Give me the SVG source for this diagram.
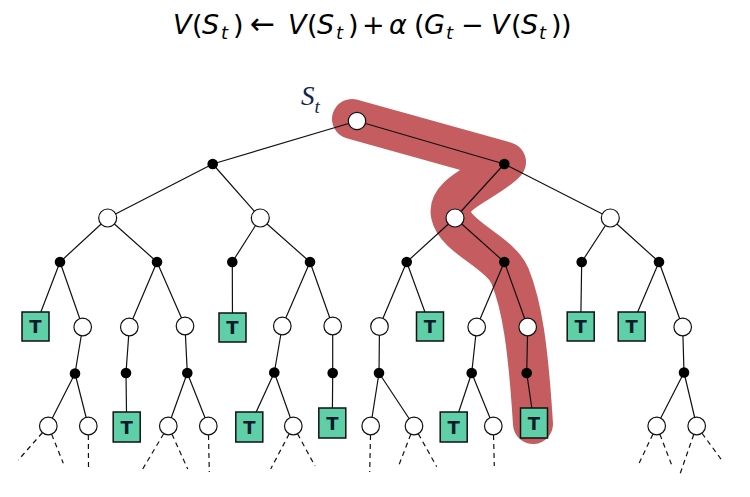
<svg xmlns="http://www.w3.org/2000/svg" width="750" height="497" viewBox="0 0 750 497">
<style>
.e{stroke:#111;stroke-width:1.2;fill:none}
.d{stroke:#111;stroke-width:1.2;fill:none;stroke-dasharray:5 4}
.c{fill:#fff;stroke:#111;stroke-width:1.2}
.b{fill:#000}
.t rect{fill:#5ecfa7;stroke:#111;stroke-width:1.5}
.t text{font-family:"DejaVu Sans",sans-serif;font-weight:bold;font-size:18px;fill:#0b1b2b;text-anchor:middle}
.m{font-family:"DejaVu Sans",sans-serif;font-size:27px;fill:#000}
.i{font-style:italic}
.s{font-size:18px;font-style:italic}
</style>
<rect width="750" height="497" fill="#fff"/>
<g id="title">
<text class="m" y="34">
<tspan class="i" x="173">V</tspan><tspan x="192">(</tspan><tspan class="i" x="202">S</tspan><tspan class="s" x="221" y="39">t</tspan><tspan x="233" y="34">)</tspan>
<tspan x="250" font-size="30">←</tspan>
<tspan class="i" x="288">V</tspan><tspan x="307">(</tspan><tspan class="i" x="317">S</tspan><tspan class="s" x="336" y="39">t</tspan><tspan x="348" y="34">)</tspan>
<tspan x="362">+</tspan>
<tspan class="i" x="389">α</tspan>
<tspan x="414">(</tspan><tspan class="i" x="424">G</tspan><tspan class="s" x="446" y="39">t</tspan>
<tspan x="461" y="34">−</tspan>
<tspan class="i" x="491">V</tspan><tspan x="511">(</tspan><tspan class="i" x="521">S</tspan><tspan class="s" x="539" y="39">t</tspan><tspan x="551" y="34">)</tspan><tspan x="561">)</tspan>
</text>
</g>
<g id="highlight">
<path d="M352,119 L506,162 C488,182 446,192 451,215 C456,238 500,252 510,276 C522,306 528,345 533,424" fill="none" stroke="#c45c60" stroke-width="40" stroke-linecap="round" stroke-linejoin="round"/>
</g>
<g id="label-st">
<text x="301" y="105" font-family="Liberation Serif,serif" font-style="italic" font-size="27" fill="#14234f">S<tspan font-size="19" dy="8">t</tspan></text>
</g>
<g id="connectors">
<path class="e" d="M357,121L212.7,164M357,121L504.3,164
M212.7,164L107.7,218M212.7,164L260.3,218M504.3,164L455,218M504.3,164L610.3,218
M107.7,218L60,262M107.7,218L157,262M260.3,218L232.3,262M260.3,218L310,262
M455,218L406.7,262M455,218L504.3,262M610.3,218L581.7,262M610.3,218L659,262
M60,262L35.5,326M60,262L82.7,327M157,262L129.3,327M157,262L185,326
M232.3,262L232.5,327M310,262L282.3,326M310,262L332.7,326
M406.7,262L379.5,326.5M406.7,262L430,326M504.3,262L476.7,327M504.3,262L527.7,327
M581.7,262L580.7,326M659,262L631.7,326M659,262L682.7,327
M82.7,327L75,373.5M129.3,327L126,373M185,326L187.3,373M282.3,326L274.3,372.5M332.7,326L332.7,373
M379.5,326.5L379,373M476.7,327L471.7,373M527.7,327L526.7,373M682.7,327L684,372.5
M75,373.5L48.3,426M75,373.5L88.3,426M126,373L126.7,427M187.3,373L168.3,426M187.3,373L208.3,426
M274.3,372.5L249.3,427M274.3,372.5L293.3,426M332.7,373L332.3,423
M379,373L370.7,426M379,373L414,426M471.7,373L453.7,427M471.7,373L493.3,426
M526.7,373L534,423M684,372.5L656.7,426M684,372.5L696.7,426"/>
<path class="d" d="M48.3,426L18.3,460M48.3,426L63.3,463.3M88.3,426L88.5,467
M168.3,426L142.7,469M168.3,426L187.7,469M208.3,426L209.3,472
M293.3,426L270.7,469M293.3,426L315,466M370.7,426L369.7,472
M414,426L398.3,466.7M414,426L436.7,466.7M493.3,426L494.3,466
M656.7,426L638.3,465M656.7,426L671.7,465M696.7,426L680,474M696.7,426L721.7,460"/>
</g>
<g id="n-root"><circle class="c" cx="357" cy="121" r="8.7"/></g>
<g id="n-a1"><circle class="b" cx="212.7" cy="164" r="5.3"/></g>
<g id="n-a2"><circle class="b" cx="504.3" cy="164" r="5.3"/></g>
<g id="n-s1"><circle class="c" cx="107.7" cy="218" r="9"/></g>
<g id="n-s2"><circle class="c" cx="260.3" cy="218" r="9"/></g>
<g id="n-s3"><circle class="c" cx="455" cy="218" r="9"/></g>
<g id="n-s4"><circle class="c" cx="610.3" cy="218" r="9"/></g>
<g id="n-b1"><circle class="b" cx="60" cy="262" r="5.3"/></g>
<g id="n-b2"><circle class="b" cx="157" cy="262" r="5.3"/></g>
<g id="n-b3"><circle class="b" cx="232.3" cy="262" r="5.3"/></g>
<g id="n-b4"><circle class="b" cx="310" cy="262" r="5.3"/></g>
<g id="n-b5"><circle class="b" cx="406.7" cy="262" r="5.3"/></g>
<g id="n-b6"><circle class="b" cx="504.3" cy="262" r="5.3"/></g>
<g id="n-b7"><circle class="b" cx="581.7" cy="262" r="5.3"/></g>
<g id="n-b8"><circle class="b" cx="659" cy="262" r="5.3"/></g>
<g id="n-t1" class="t"><rect x="22" y="312" width="27" height="29"/><text x="35.5" y="333">T</text></g>
<g id="n-c1"><circle class="c" cx="82.7" cy="327" r="8.8"/></g>
<g id="n-c2"><circle class="c" cx="129.3" cy="327" r="8.8"/></g>
<g id="n-c3"><circle class="c" cx="185" cy="326" r="8.8"/></g>
<g id="n-t2" class="t"><rect x="219" y="313" width="27" height="29"/><text x="232.5" y="334">T</text></g>
<g id="n-c4"><circle class="c" cx="282.3" cy="326" r="8.8"/></g>
<g id="n-c5"><circle class="c" cx="332.7" cy="326" r="8.8"/></g>
<g id="n-c6"><circle class="c" cx="379.5" cy="326.5" r="8.8"/></g>
<g id="n-t3" class="t"><rect x="416.5" y="312" width="27" height="29"/><text x="430" y="333">T</text></g>
<g id="n-c7"><circle class="c" cx="476.7" cy="327" r="8.8"/></g>
<g id="n-c8"><circle class="c" cx="527.7" cy="327" r="8.8"/></g>
<g id="n-t4" class="t"><rect x="567.2" y="312" width="27" height="29"/><text x="580.7" y="333">T</text></g>
<g id="n-t5" class="t"><rect x="618.2" y="312" width="27" height="29"/><text x="631.7" y="333">T</text></g>
<g id="n-c9"><circle class="c" cx="682.7" cy="327" r="8.8"/></g>
<g id="n-d1"><circle class="b" cx="75" cy="373.5" r="5.3"/></g>
<g id="n-d2"><circle class="b" cx="126" cy="373" r="5.3"/></g>
<g id="n-d3"><circle class="b" cx="187.3" cy="373" r="5.3"/></g>
<g id="n-d4"><circle class="b" cx="274.3" cy="372.5" r="5.3"/></g>
<g id="n-d5"><circle class="b" cx="332.7" cy="373" r="5.3"/></g>
<g id="n-d6"><circle class="b" cx="379" cy="373" r="5.3"/></g>
<g id="n-d7"><circle class="b" cx="471.7" cy="373" r="5.3"/></g>
<g id="n-d8"><circle class="b" cx="526.7" cy="373" r="5.3"/></g>
<g id="n-d9"><circle class="b" cx="684" cy="372.5" r="5.3"/></g>
<g id="n-e1"><circle class="c" cx="48.3" cy="426" r="8.8"/></g>
<g id="n-e2"><circle class="c" cx="88.3" cy="426" r="8.8"/></g>
<g id="n-t6" class="t"><rect x="113.2" y="412" width="27" height="30"/><text x="126.7" y="433.5">T</text></g>
<g id="n-e3"><circle class="c" cx="168.3" cy="426" r="8.8"/></g>
<g id="n-e4"><circle class="c" cx="208.3" cy="426" r="8.8"/></g>
<g id="n-t7" class="t"><rect x="235.8" y="412" width="27" height="30"/><text x="249.3" y="433.5">T</text></g>
<g id="n-e5"><circle class="c" cx="293.3" cy="426" r="8.8"/></g>
<g id="n-t8" class="t"><rect x="318.8" y="408" width="27" height="30"/><text x="332.3" y="429.5">T</text></g>
<g id="n-e6"><circle class="c" cx="370.7" cy="426" r="8.8"/></g>
<g id="n-e7"><circle class="c" cx="414" cy="426" r="8.8"/></g>
<g id="n-t9" class="t"><rect x="440.2" y="412" width="27" height="30"/><text x="453.7" y="433.5">T</text></g>
<g id="n-e8"><circle class="c" cx="493.3" cy="426" r="8.8"/></g>
<g id="n-t10" class="t"><rect x="520.5" y="408" width="27" height="30"/><text x="534" y="429.5">T</text></g>
<g id="n-e9"><circle class="c" cx="656.7" cy="426" r="8.8"/></g>
<g id="n-e10"><circle class="c" cx="696.7" cy="426" r="8.8"/></g>
</svg>
